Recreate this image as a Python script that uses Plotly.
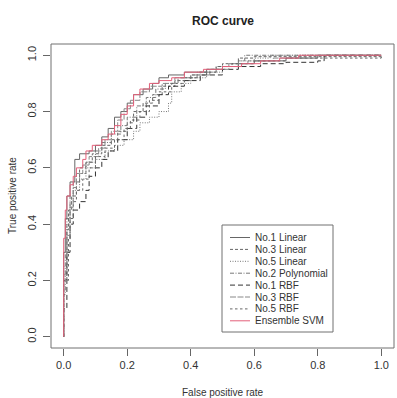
import plotly.graph_objects as go

# ---- data: ROC curve corner points (false positive rate, true positive rate) ----
series_names = ["No.1 Linear", "No.3 Linear", "No.5 Linear", "No.2 Polynomial",
                "No.1 RBF", "No.3 RBF", "No.5 RBF", "Ensemble SVM"]

lin1_fpr = [0, 0, 0.005, 0.01, 0.02, 0.035, 0.05, 0.08, 0.10, 0.12, 0.14, 0.16, 0.18, 0.20, 0.22, 0.25, 0.28, 0.30, 0.33, 0.38, 0.45, 0.50, 0.55, 0.60, 0.70, 0.80, 1.0]
lin1_tpr = [0, 0.30, 0.42, 0.50, 0.55, 0.63, 0.65, 0.66, 0.68, 0.71, 0.74, 0.78, 0.80, 0.83, 0.86, 0.88, 0.90, 0.92, 0.93, 0.94, 0.95, 0.96, 0.97, 0.98, 0.99, 1.0, 1.0]

lin3_fpr = [0, 0, 0.01, 0.015, 0.025, 0.04, 0.05, 0.07, 0.09, 0.12, 0.15, 0.17, 0.20, 0.22, 0.25, 0.28, 0.31, 0.35, 0.40, 0.45, 0.50, 0.55, 0.60, 0.97, 1.0]
lin3_tpr = [0, 0.20, 0.38, 0.45, 0.50, 0.55, 0.60, 0.62, 0.65, 0.68, 0.70, 0.73, 0.76, 0.80, 0.83, 0.86, 0.89, 0.91, 0.93, 0.95, 0.97, 0.99, 0.995, 0.995, 1.0]

lin5_fpr = [0, 0, 0.01, 0.02, 0.03, 0.05, 0.07, 0.10, 0.13, 0.16, 0.19, 0.22, 0.24, 0.27, 0.30, 0.33, 0.34, 0.37, 0.40, 0.45, 0.50, 0.55, 0.60, 0.65, 1.0]
lin5_tpr = [0, 0.25, 0.40, 0.48, 0.52, 0.56, 0.60, 0.63, 0.66, 0.68, 0.70, 0.73, 0.76, 0.78, 0.80, 0.83, 0.87, 0.90, 0.92, 0.94, 0.96, 0.98, 0.99, 1.0, 1.0]

poly2_fpr = [0, 0, 0.005, 0.01, 0.02, 0.03, 0.05, 0.07, 0.10, 0.12, 0.15, 0.18, 0.20, 0.23, 0.26, 0.29, 0.32, 0.36, 0.42, 0.48, 0.55, 0.57, 0.62, 1.0]
poly2_tpr = [0, 0.15, 0.30, 0.42, 0.50, 0.55, 0.58, 0.62, 0.66, 0.69, 0.72, 0.75, 0.78, 0.82, 0.85, 0.88, 0.90, 0.92, 0.94, 0.96, 0.98, 1.0, 1.0, 1.0]

rbf1_fpr = [0, 0, 0.01, 0.02, 0.03, 0.05, 0.07, 0.08, 0.10, 0.12, 0.14, 0.17, 0.20, 0.23, 0.26, 0.30, 0.33, 0.38, 0.43, 0.50, 0.55, 0.62, 0.70, 0.80, 0.82, 1.0]
rbf1_tpr = [0, 0.10, 0.30, 0.40, 0.45, 0.48, 0.52, 0.57, 0.60, 0.63, 0.66, 0.70, 0.74, 0.78, 0.82, 0.86, 0.89, 0.91, 0.93, 0.95, 0.96, 0.97, 0.975, 0.98, 1.0, 1.0]

rbf3_fpr = [0, 0, 0.01, 0.02, 0.03, 0.04, 0.06, 0.08, 0.11, 0.13, 0.15, 0.17, 0.19, 0.21, 0.24, 0.27, 0.31, 0.35, 0.40, 0.46, 0.52, 0.58, 0.66, 0.76, 1.0]
rbf3_tpr = [0, 0.22, 0.36, 0.46, 0.53, 0.58, 0.61, 0.64, 0.67, 0.70, 0.73, 0.77, 0.81, 0.84, 0.87, 0.89, 0.90, 0.92, 0.93, 0.95, 0.97, 0.98, 0.99, 1.0, 1.0]

rbf5_fpr = [0, 0, 0.015, 0.02, 0.03, 0.04, 0.06, 0.08, 0.10, 0.13, 0.16, 0.19, 0.21, 0.24, 0.27, 0.30, 0.34, 0.38, 0.43, 0.48, 0.53, 0.60, 0.70, 0.96, 1.0]
rbf5_tpr = [0, 0.20, 0.35, 0.42, 0.48, 0.52, 0.56, 0.60, 0.64, 0.67, 0.70, 0.74, 0.77, 0.80, 0.84, 0.87, 0.90, 0.92, 0.94, 0.96, 0.97, 0.98, 0.99, 0.99, 1.0]

ens_fpr = [0, 0, 0.005, 0.01, 0.02, 0.03, 0.04, 0.06, 0.07, 0.09, 0.12, 0.14, 0.16, 0.18, 0.20, 0.22, 0.24, 0.27, 0.30, 0.34, 0.38, 0.44, 0.50, 0.56, 0.62, 0.68, 0.74, 1.0]
ens_tpr = [0, 0.35, 0.45, 0.50, 0.54, 0.57, 0.60, 0.63, 0.66, 0.68, 0.70, 0.72, 0.75, 0.79, 0.82, 0.86, 0.88, 0.90, 0.91, 0.92, 0.94, 0.95, 0.96, 0.97, 0.98, 0.99, 1.0, 1.0]

tick_vals = [0.0, 0.2, 0.4, 0.6, 0.8, 1.0]
tick_text = ["0.0", "0.2", "0.4", "0.6", "0.8", "1.0"]

curves = [(lin1_fpr, lin1_tpr), (lin3_fpr, lin3_tpr), (lin5_fpr, lin5_tpr), (poly2_fpr, poly2_tpr),
          (rbf1_fpr, rbf1_tpr), (rbf3_fpr, rbf3_tpr), (rbf5_fpr, rbf5_tpr), (ens_fpr, ens_tpr)]

styles = [
    dict(color="#666666", dash="solid"),
    dict(color="#666666", dash="3px,2px"),
    dict(color="#777777", dash="1px,1.5px"),
    dict(color="#777777", dash="4px,1.5px,1px,1.5px"),
    dict(color="#333333", dash="5px,3px"),
    dict(color="#888888", dash="6px,1.5px"),
    dict(color="#666666", dash="2.5px,2.5px"),
    dict(color="#e3607a", dash="solid"),
]

FONT = "Liberation Sans, Arial, sans-serif"
W, H = 397, 398
ML, MR, MT, MB = 51, 3, 44, 50
PW, PH = W - ML - MR, H - MT - MB


def px_x(p):
    return (p - ML) / PW


def px_y(p):
    return (H - MB - p) / PH


fig = go.Figure()
for name, (fx, ty), st in zip(series_names, curves, styles):
    fig.add_trace(go.Scatter(x=fx, y=ty, mode="lines", name=name, showlegend=False,
                             line=dict(color=st["color"], dash=st["dash"], width=1, shape="hv")))

axis_common = dict(range=[-0.04, 1.04], tickvals=tick_vals, ticktext=tick_text,
                   ticks="outside", ticklen=7, tickcolor="#666666", tickwidth=1,
                   showgrid=False, zeroline=False, showline=False,
                   tickfont=dict(family=FONT, size=11, color="#333333"))

shapes = [dict(type="rect", xref="paper", yref="paper", x0=0, y0=0, x1=1, y1=1,
               line=dict(color="#707070", width=1))]
annotations = [
    dict(text="<b>ROC curve</b>", xref="paper", yref="paper", x=0.5, y=1, yshift=23,
         showarrow=False, font=dict(family=FONT, size=12, color="#222222"),
         xanchor="center", yanchor="middle"),
    dict(text="False positive rate", xref="paper", yref="paper", x=0.5, y=0, yshift=-44,
         showarrow=False, font=dict(family=FONT, size=10, color="#333333"),
         xanchor="center", yanchor="middle"),
    dict(text="True positive rate", xref="paper", yref="paper", x=0, y=0.5, xshift=-39,
         textangle=-90, showarrow=False, font=dict(family=FONT, size=10, color="#333333"),
         xanchor="center", yanchor="middle"),
]

# manual legend (R-style box)
LEG_L, LEG_R, LEG_T, LEG_B = 222, 333, 225, 332
shapes.append(dict(type="rect", xref="paper", yref="paper",
                   x0=px_x(LEG_L), x1=px_x(LEG_R), y0=px_y(LEG_B), y1=px_y(LEG_T),
                   fillcolor="white", line=dict(color="#707070", width=1), layer="above"))
for i, (name, st) in enumerate(zip(series_names, styles)):
    yy = px_y(237.5 + i * 11.9)
    shapes.append(dict(type="line", xref="paper", yref="paper",
                       x0=px_x(230), x1=px_x(250), y0=yy, y1=yy, layer="above",
                       line=dict(color=st["color"], dash=st["dash"], width=1)))
    annotations.append(dict(text=name, xref="paper", yref="paper", x=px_x(253), y=yy,
                            xanchor="left", yanchor="middle", showarrow=False,
                            font=dict(family=FONT, size=10, color="#333333")))

fig.update_layout(
    width=W, height=H,
    margin=dict(l=ML, r=MR, t=MT, b=MB),
    paper_bgcolor="white", plot_bgcolor="white",
    font=dict(family=FONT, color="#333333"),
    xaxis=axis_common,
    yaxis=dict(axis_common, tickangle=-90, ticklabelstandoff=3),
    showlegend=False,
    shapes=shapes,
    annotations=annotations,
)

fig.write_html("out.html")
